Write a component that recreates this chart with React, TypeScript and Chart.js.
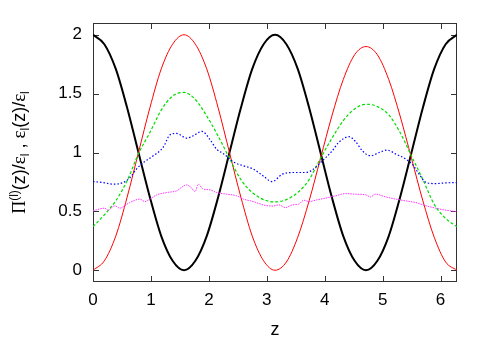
import React, { useEffect, useRef } from 'react';
import { Chart, registerables } from 'chart.js';
Chart.register(...registerables);

// z sample points for the smooth curves
const zGrid = [0, 0.196, 0.393, 0.589, 0.785, 0.982, 1.178, 1.374, 1.571, 1.767, 1.963, 2.160, 2.356, 2.553, 2.749, 2.945, 3.142, 3.338, 3.534, 3.731, 3.927, 4.123, 4.320, 4.516, 4.712, 4.909, 5.105, 5.301, 5.498, 5.694, 5.890, 6.087, 6.283];
const blackSeries = [2, 1.92, 1.71, 1.38, 1.0, 0.62, 0.29, 0.08, 0, 0.08, 0.29, 0.62, 1.0, 1.38, 1.71, 1.92, 2, 1.92, 1.71, 1.38, 1.0, 0.62, 0.29, 0.08, 0, 0.08, 0.29, 0.62, 1.0, 1.38, 1.71, 1.92, 2];
const redSeries = [0, 0.08, 0.29, 0.62, 1.0, 1.38, 1.71, 1.92, 2.0, 1.92, 1.71, 1.38, 1.0, 0.62, 0.29, 0.08, 0, 0.07, 0.28, 0.59, 0.95, 1.31, 1.62, 1.83, 1.9, 1.83, 1.62, 1.31, 0.95, 0.59, 0.28, 0.07, 0];
const greenSeries = [0.37, 0.47, 0.59, 0.76, 0.99, 1.17, 1.36, 1.48, 1.51, 1.45, 1.31, 1.14, 0.95, 0.77, 0.66, 0.60, 0.58, 0.60, 0.66, 0.77, 0.95, 1.12, 1.27, 1.37, 1.41, 1.39, 1.32, 1.17, 0.97, 0.77, 0.56, 0.44, 0.37];

const zBlue = [0, 0.17, 0.35, 0.52, 0.64, 0.75, 0.87, 1.04, 1.21, 1.33, 1.44, 1.62, 1.73, 1.88, 2.02, 2.13, 2.25, 2.35, 2.42, 2.60, 2.77, 2.94, 3.09, 3.27, 3.44, 3.67, 3.78, 3.96, 4.13, 4.24, 4.42, 4.53, 4.65, 4.79, 4.94, 5.08, 5.23, 5.40, 5.51, 5.63, 5.75, 5.92, 6.10, 6.283];
const blueSeries = [0.753, 0.745, 0.731, 0.745, 0.787, 0.859, 0.915, 0.972, 1.043, 1.15, 1.162, 1.122, 1.142, 1.179, 1.11, 1.03, 0.99, 0.95, 0.92, 0.887, 0.859, 0.80, 0.753, 0.816, 0.83, 0.83, 0.85, 0.93, 1.014, 1.085, 1.134, 1.094, 1.014, 0.972, 1.0, 1.02, 0.986, 0.944, 0.90, 0.816, 0.745, 0.736, 0.742, 0.745];

const zMagenta = [0, 0.2, 0.26, 0.375, 0.46, 0.635, 0.81, 0.895, 0.98, 1.10, 1.27, 1.44, 1.615, 1.70, 1.76, 1.82, 1.90, 2.02, 2.13, 2.31, 2.48, 2.60, 2.77, 2.94, 3.09, 3.21, 3.32, 3.44, 3.55, 3.64, 3.73, 3.84, 4.01, 4.19, 4.36, 4.53, 4.71, 4.79, 4.88, 5.05, 5.23, 5.40, 5.57, 5.75, 5.92, 6.09, 6.283];
const magentaSeries = [0.505, 0.527, 0.51, 0.547, 0.527, 0.575, 0.604, 0.583, 0.604, 0.64, 0.66, 0.674, 0.725, 0.70, 0.668, 0.73, 0.69, 0.683, 0.66, 0.646, 0.632, 0.604, 0.583, 0.555, 0.545, 0.555, 0.532, 0.555, 0.561, 0.595, 0.583, 0.595, 0.612, 0.632, 0.651, 0.646, 0.64, 0.623, 0.646, 0.623, 0.604, 0.589, 0.575, 0.547, 0.527, 0.51, 0.498];

const xTicks = [0, 1, 2, 3, 4, 5, 6];
const yTicks = [0, 0.5, 1, 1.5, 2];
const xMin = 0;
const xMax = 6.2832;
const yMin = -0.1;
const yMax = 2.1;
const xTitle = 'z';

const SANS = "'Liberation Sans', Arial, sans-serif";
const SERIF = "'Liberation Serif', 'DejaVu Serif', serif";

const pts = (xs: number[], ys: number[]) => xs.map((x, i) => ({ x, y: ys[i] }));

type Seg = { t: string; font: string; dy: number };
const yTitleSegs: Seg[] = [
  { t: 'Π', font: `18px ${SERIF}`, dy: 0 },
  { t: '(l)', font: `12px ${SANS}`, dy: -7 },
  { t: '(z)/', font: `18px ${SANS}`, dy: 0 },
  { t: 'ε', font: `19px ${SERIF}`, dy: 0 },
  { t: 'l', font: `12px ${SANS}`, dy: 4 },
  { t: ' , ', font: `18px ${SANS}`, dy: 0 },
  { t: 'ε', font: `19px ${SERIF}`, dy: 0 },
  { t: 'l', font: `12px ${SANS}`, dy: 4 },
  { t: '(z)/', font: `18px ${SANS}`, dy: 0 },
  { t: 'ε', font: `19px ${SERIF}`, dy: 0 },
  { t: 'l', font: `12px ${SANS}`, dy: 4 },
];

const framePlugin = {
  id: 'gpFrame',
  beforeDatasetsDraw(chart: any) {
    const { ctx, chartArea: a, scales } = chart;
    ctx.save();
    ctx.strokeStyle = '#333';
    ctx.lineWidth = 1;
    ctx.strokeRect(a.left + 0.5, a.top + 0.5, a.right - a.left - 1, a.bottom - a.top - 1);
    const L = 6;
    ctx.beginPath();
    for (const v of xTicks) {
      const px = Math.round(scales.x.getPixelForValue(v)) + 0.5;
      ctx.moveTo(px, a.bottom);
      ctx.lineTo(px, a.bottom - L);
      ctx.moveTo(px, a.top);
      ctx.lineTo(px, a.top + L);
    }
    for (const v of yTicks) {
      const py = Math.round(scales.y.getPixelForValue(v)) + 0.5;
      ctx.moveTo(a.left, py);
      ctx.lineTo(a.left + L, py);
      ctx.moveTo(a.right, py);
      ctx.lineTo(a.right - L, py);
    }
    ctx.stroke();
    ctx.restore();
  },
  afterDraw(chart: any) {
    const { ctx, chartArea: a } = chart;
    ctx.save();
    ctx.fillStyle = '#000';
    // x title
    ctx.font = `18px ${SANS}`;
    ctx.textAlign = 'center';
    ctx.textBaseline = 'alphabetic';
    ctx.fillText(xTitle, (a.left + a.right) / 2, 335);
    // y title (rotated, rich text)
    ctx.translate(25, (a.top + a.bottom) / 2);
    ctx.rotate(-Math.PI / 2);
    ctx.textAlign = 'left';
    let total = 0;
    for (const s of yTitleSegs) {
      ctx.font = s.font;
      total += ctx.measureText(s.t).width;
    }
    let x = -total / 2;
    for (const s of yTitleSegs) {
      ctx.font = s.font;
      ctx.fillText(s.t, x, s.dy);
      x += ctx.measureText(s.t).width;
    }
    ctx.restore();
  },
};

export default function App() {
  const ref = useRef<HTMLCanvasElement>(null);
  useEffect(() => {
    const prevMargin = document.body.style.margin;
    document.body.style.margin = '0';
    const chart = new Chart(ref.current!, {
      type: 'line',
      data: {
        datasets: [
          { data: pts(zBlue, blueSeries), borderColor: '#0000ff', borderWidth: 1.2, borderDash: [1.5, 2], cubicInterpolationMode: 'monotone' },
          { data: pts(zMagenta, magentaSeries), borderColor: '#ff33ff', borderWidth: 1, borderDash: [1.5, 1], cubicInterpolationMode: 'monotone' },
          { data: pts(zGrid, greenSeries), borderColor: '#00dd00', borderWidth: 1.2, borderDash: [3, 2], cubicInterpolationMode: 'monotone' },
          { data: pts(zGrid, redSeries), borderColor: '#ff0000', borderWidth: 1, cubicInterpolationMode: 'monotone' },
          { data: pts(zGrid, blackSeries), borderColor: '#000000', borderWidth: 2, cubicInterpolationMode: 'monotone' },
        ] as any,
      },
      options: {
        responsive: false,
        animation: false,
        devicePixelRatio: 1,
        layout: { padding: { top: 23, right: 34, left: 0, bottom: 0 } },
        elements: { point: { radius: 0 }, line: { fill: false } },
        plugins: { legend: { display: false }, tooltip: { enabled: false } },
        scales: {
          x: {
            type: 'linear',
            min: xMin,
            max: xMax,
            grid: { display: false, drawTicks: false },
            border: { display: false },
            afterBuildTicks: (s: any) => { s.ticks = xTicks.map((v) => ({ value: v })); },
            afterFit: (s: any) => { s.height = 61; },
            ticks: { padding: 8, color: '#000', font: { family: SANS, size: 17 }, callback: (v: any) => String(v), maxRotation: 0, autoSkip: false },
          },
          y: {
            type: 'linear',
            min: yMin,
            max: yMax,
            grid: { display: false, drawTicks: false },
            border: { display: false },
            afterBuildTicks: (s: any) => { s.ticks = yTicks.map((v) => ({ value: v })); },
            afterFit: (s: any) => { s.width = 93; },
            ticks: { padding: 11, color: '#000', font: { family: SANS, size: 17 }, callback: (v: any) => String(v), autoSkip: false },
          },
        },
      } as any,
      plugins: [framePlugin],
    });
    return () => {
      chart.destroy();
      document.body.style.margin = prevMargin;
    };
  }, []);
  return (
    <div style={{ position: 'absolute', left: 0, top: 0, width: 491, height: 343, background: '#fff' }}>
      <canvas ref={ref} width={491} height={343} />
    </div>
  );
}
